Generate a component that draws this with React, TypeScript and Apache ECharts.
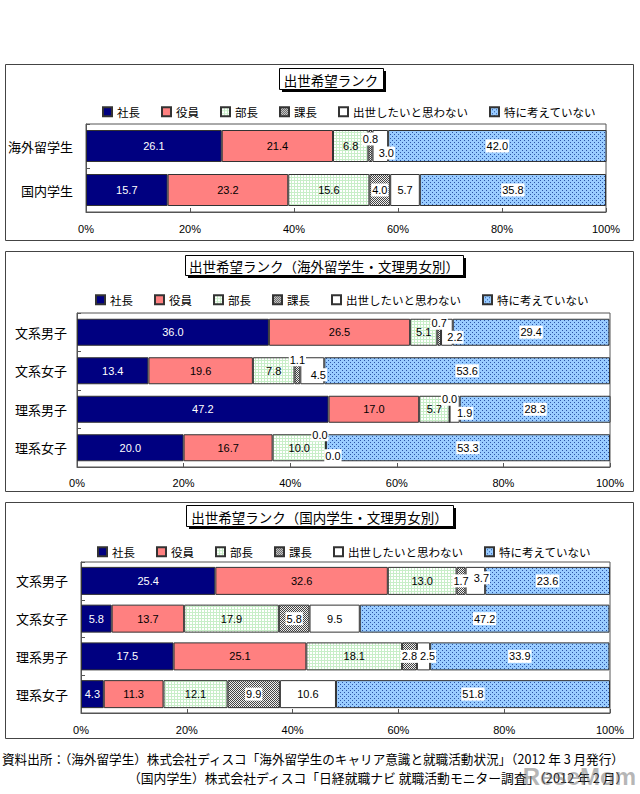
import React, { useEffect, useRef } from 'react';
import * as echarts from 'echarts';

// ---------- data ----------
const seriesNames = ['社長', '役員', '部長', '課長', '出世したいと思わない', '特に考えていない'];
const catsPanel1 = ['海外留学生', '国内学生'];
const catsGender = ['文系男子', '文系女子', '理系男子', '理系女子'];
const xTickValues = [0, 20, 40, 60, 80, 100];

const titles = [
  '出世希望ランク',
  '出世希望ランク（海外留学生・文理男女別）',
  '出世希望ランク（国内学生・文理男女別）',
];

// Panel 1: 海外留学生 / 国内学生
const p1President = [26.1, 15.7];
const p1Executive = [21.4, 23.2];
const p1Manager = [6.8, 15.6];
const p1Section = [0.8, 4.0];
const p1NoWish = [3.0, 5.7];
const p1NotThought = [42.0, 35.8];

// Panel 2: 海外留学生 by 文理男女
const p2President = [36.0, 13.4, 47.2, 20.0];
const p2Executive = [26.5, 19.6, 17.0, 16.7];
const p2Manager = [5.1, 7.8, 5.7, 10.0];
const p2Section = [0.7, 1.1, 0.0, 0.0];
const p2NoWish = [2.2, 4.5, 1.9, 0.0];
const p2NotThought = [29.4, 53.6, 28.3, 53.3];

// Panel 3: 国内学生 by 文理男女
const p3President = [25.4, 5.8, 17.5, 4.3];
const p3Executive = [32.6, 13.7, 25.1, 11.3];
const p3Manager = [13.0, 17.9, 18.1, 12.1];
const p3Section = [1.7, 5.8, 2.8, 9.9];
const p3NoWish = [3.7, 9.5, 2.5, 10.6];
const p3NotThought = [23.6, 47.2, 33.9, 51.8];

const footLine1 = '資料出所：（海外留学生）株式会社ディスコ「海外留学生のキャリア意識と就職活動状況」（2012 年 3 月発行）';
const footLine2 = '（国内学生）株式会社ディスコ「日経就職ナビ 就職活動モニター調査」（2012 年 2 月）';
const watermark = 'ReseMom';

// ---------- layout / style ----------
const FONT = "'Noto Sans CJK JP', sans-serif";
const NUMFONT = "'Liberation Sans', Arial, sans-serif";

const panelLayouts = [
  { frame: [5, 64, 628, 176], title: [279, 68, 104, 21], legendLeft: 97, legendTop: 101, grid: { left: 86, top: 124, width: 520, height: 88 }, barWidth: 32, labelMargin: 11 },
  { frame: [5, 251, 628, 240], title: [185, 255, 278, 20], legendLeft: 90, legendTop: 289, grid: { left: 77, top: 313, width: 533, height: 154 }, barWidth: 27, labelMargin: 10 },
  { frame: [5, 502, 628, 236], title: [186, 505, 267, 21], legendLeft: 92, legendTop: 541, grid: { left: 81, top: 562, width: 529, height: 151 }, barWidth: 28, labelMargin: 11 },
];

// label offsets for tiny segments: key = panel-series-row
const labelOffsets: Record<string, [number, number]> = {
  '0-3-0': [0, -7], '0-4-0': [6, 7],
  '1-3-0': [0, -9], '1-4-0': [8, 5],
  '1-3-1': [0, -11], '1-4-1': [6, 4],
  '1-3-2': [0, -10], '1-4-2': [10, 4],
  '1-3-3': [-6, -13], '1-4-3': [7, 8],
  '2-4-0': [6, -3], '2-4-2': [4, 0],
};

function makePattern(size: number, bg: string, fg: string, pts: number[][]) {
  const c = document.createElement('canvas');
  c.width = size;
  c.height = size;
  const ctx = c.getContext('2d')!;
  ctx.fillStyle = bg;
  ctx.fillRect(0, 0, size, size);
  ctx.fillStyle = fg;
  pts.forEach(([x, y]) => ctx.fillRect(x, y, 1, 1));
  return { image: c.toDataURL(), repeat: 'repeat', imageWidth: size, imageHeight: size } as any;
}

export default function App() {
  const ref = useRef<HTMLDivElement>(null);

  useEffect(() => {
    if (!ref.current) return;
    const chart = echarts.init(ref.current, null, { renderer: 'svg' });

    const greenPat = makePattern(3, '#ffffff', '#c8eec8', [[0, 0], [1, 0], [2, 0], [0, 1], [0, 2]]);
    const grayPat = makePattern(2, '#eeeeee', '#444444', [[0, 0], [1, 1]]);
    const bluePat = makePattern(4, '#99ccff', '#2d55a8', [[0, 0], [2, 2]]);

    const seriesStyles = [
      { color: '#000080', labelColor: '#ffffff', bg: undefined },
      { color: '#ff8080', labelColor: '#000000', bg: undefined },
      { color: greenPat, labelColor: '#000000', bg: undefined },
      { color: grayPat, labelColor: '#000000', bg: '#ffffff' },
      { color: '#ffffff', labelColor: '#000000', bg: '#ffffff' },
      { color: bluePat, labelColor: '#000000', bg: '#ffffff' },
    ];

    const panelValues = [
      [p1President, p1Executive, p1Manager, p1Section, p1NoWish, p1NotThought],
      [p2President, p2Executive, p2Manager, p2Section, p2NoWish, p2NotThought],
      [p3President, p3Executive, p3Manager, p3Section, p3NoWish, p3NotThought],
    ];
    const panelCats = [catsPanel1, catsGender, catsGender];

    const grids: any[] = [];
    const xAxes: any[] = [];
    const yAxes: any[] = [];
    const legends: any[] = [];
    const series: any[] = [];
    const graphics: any[] = [];

    panelLayouts.forEach((L, pi) => {
      grids.push({
        ...L.grid,
        show: true,
        borderColor: '#555',
        borderWidth: 1,
        backgroundColor: '#fff',
      });
      xAxes.push({
        gridIndex: pi,
        type: 'value',
        min: xTickValues[0],
        max: xTickValues[xTickValues.length - 1],
        interval: xTickValues[1] - xTickValues[0],
        axisLine: { show: true, lineStyle: { color: '#555' } },
        axisTick: { show: true, inside: true, length: 4, lineStyle: { color: '#555' } },
        splitLine: { show: false },
        axisLabel: { formatter: '{value}%', fontSize: 11, color: '#000', fontFamily: NUMFONT, margin: L.labelMargin },
      });
      yAxes.push({
        gridIndex: pi,
        type: 'category',
        inverse: true,
        data: panelCats[pi],
        axisLine: { show: true, lineStyle: { color: '#555' } },
        axisTick: { show: true, inside: true, length: 4, lineStyle: { color: '#555' } },
        axisLabel: { fontSize: 13, color: '#000', fontFamily: FONT, margin: pi === 1 ? 10 : 13 },
      });
      legends.push({
        left: L.legendLeft,
        top: L.legendTop,
        orient: 'horizontal',
        data: seriesNames,
        itemWidth: 9,
        itemHeight: 9,
        itemGap: 21,
        icon: 'rect',
        selectedMode: false,
        textStyle: { fontSize: 11.5, color: '#000', fontFamily: FONT },
      });

      seriesNames.forEach((name, si) => {
        const st = seriesStyles[si];
        const vals = panelValues[pi][si];
        series.push({
          name,
          type: 'bar',
          stack: 'p' + pi,
          xAxisIndex: pi,
          yAxisIndex: pi,
          barWidth: L.barWidth,
          itemStyle: { color: st.color, borderColor: '#333', borderWidth: 1 },
          label: {
            show: true,
            position: 'inside',
            formatter: (p: any) => Number(p.value).toFixed(1),
            color: st.labelColor,
            fontSize: 11,
            fontFamily: NUMFONT,
            backgroundColor: st.bg,
            padding: st.bg ? [1, 1] : 0,
          },
          data: vals.map((v, ri) => {
            const off = labelOffsets[`${pi}-${si}-${ri}`];
            return off ? { value: v, label: { offset: off } } : { value: v };
          }),
        });
      });

      const [fx, fy, fw, fh] = L.frame;
      graphics.push({
        type: 'rect',
        shape: { x: fx + 0.5, y: fy + 0.5, width: fw, height: fh },
        style: { fill: 'none', stroke: '#444', lineWidth: 1 },
        silent: true,
      });
      const [tx, ty, tw, th] = L.title;
      graphics.push({
        type: 'rect',
        shape: { x: tx + 3, y: ty + 3, width: tw, height: th },
        style: { fill: '#000' },
        silent: true,
      });
      graphics.push({
        type: 'rect',
        shape: { x: tx + 0.5, y: ty + 0.5, width: tw, height: th },
        style: { fill: '#fff', stroke: '#000', lineWidth: 1 },
        silent: true,
      });
      graphics.push({
        type: 'text',
        x: tx + tw / 2,
        y: ty + th / 2 + 1,
        style: {
          text: titles[pi],
          fontSize: 13.5,
          fontFamily: FONT,
          fill: '#000',
          align: 'center',
          verticalAlign: 'middle',
        },
        silent: true,
      });
    });

    graphics.push({
      type: 'text',
      x: 2,
      y: 758,
      style: { text: footLine1, fontSize: 12.6, fontFamily: FONT, fill: '#000', align: 'left', verticalAlign: 'middle' },
      silent: true,
    });
    graphics.push({
      type: 'text',
      x: 128,
      y: 777,
      style: { text: footLine2, fontSize: 12.8, fontFamily: FONT, fill: '#000', align: 'left', verticalAlign: 'middle' },
      silent: true,
    });
    graphics.push({
      type: 'text',
      x: 636,
      y: 776,
      style: { text: watermark, fontSize: 24, fontWeight: 'bold', fontFamily: NUMFONT, fill: 'rgba(110,110,110,0.5)', align: 'right', verticalAlign: 'middle' },
      silent: true,
    });

    chart.setOption({
      animation: false,
      backgroundColor: '#fff',
      grid: grids,
      xAxis: xAxes,
      yAxis: yAxes,
      legend: legends,
      series,
      graphic: { elements: graphics },
    });

    return () => chart.dispose();
  }, []);

  return (
    <div
      ref={ref}
      style={{ position: 'absolute', left: 0, top: 0, width: 640, height: 794, background: '#fff' }}
    />
  );
}
